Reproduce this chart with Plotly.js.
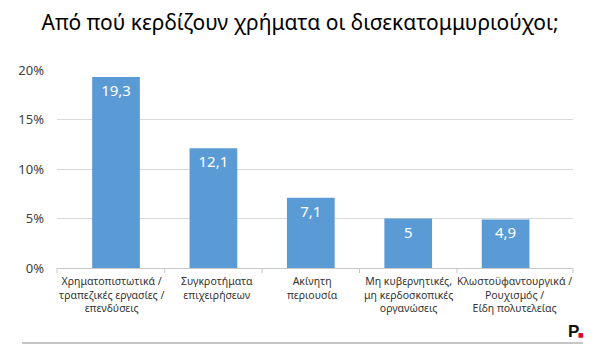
<!DOCTYPE html>
<html>
<head>
<meta charset="utf-8">
<script src="https://cdn.plot.ly/plotly-3.0.1.min.js"></script>
<style>html,body{margin:0;padding:0;background:#fff;}#chart{width:600px;height:356px;}</style>
</head>
<body>
<div id="chart"></div>
<script>
const categories = [
  "Χρηματοπιστωτικά /<br>τραπεζικές εργασίες /<br>επενδύσεις",
  "Συγκροτήματα<br>επιχειρήσεων",
  "Ακίνητη<br>περιουσία",
  "Μη κυβερνητικές,<br>μη κερδοσκοπικές<br>οργανώσεις",
  "Κλωστοϋφαντουργικά /<br>Ρουχισμός /<br>Είδη πολυτελείας"
];
const values = [19.3, 12.1, 7.1, 5, 4.9];
const valueLabels = ["19,3", "12,1", "7,1", "5", "4,9"];
const yTicks = [0, 5, 10, 15, 20];
const yTickLabels = ["0%", "5%", "10%", "15%", "20%"];
const titleText = "Από πού κερδίζουν χρήματα οι δισεκατομμυριούχοι;";

const W = 600, H = 356, L = 57, R = 27, T = 70, B = 88;
const pw = W - L - R, ph = H - T - B;
const px = x => (x - L) / pw;
const py = y => (H - B - y) / ph;
const labelShift = [-5, 4, 2, 0, 9];

const trace = {
  type: 'bar',
  x: categories,
  y: values,
  text: valueLabels,
  marker: {color: '#5b9bd5'},
  texttemplate: '%{text}',
  textposition: 'inside',
  insidetextanchor: 'end',
  textangle: 0,
  textfont: {color: '#ffffff', size: 15, family: 'Noto Sans'},
  hoverinfo: 'none'
};

// category-boundary tick marks below the axis
const tickShapes = [];
[0.5, 1.5, 2.5, 3.5].forEach(b => tickShapes.push({
  type: 'line', xref: 'x', yref: 'paper', x0: b, x1: b, y0: 0, y1: -5 / ph,
  line: {color: '#c8c8c8', width: 1}
}));
[0, 1].forEach(b => tickShapes.push({
  type: 'line', xref: 'paper', yref: 'paper', x0: b, x1: b, y0: 0, y1: -5 / ph,
  line: {color: '#c8c8c8', width: 1}
}));

const catLabels = categories.map((c, i) => ({
  xref: 'x', yref: 'paper', x: c, y: 0, xanchor: 'center', yanchor: 'top',
  yshift: -4, xshift: labelShift[i], text: c, showarrow: false, align: 'center',
  font: {size: 10.5, color: '#333333', family: 'Noto Sans'}
}));

const layout = {
  width: W, height: H,
  margin: {l: L, r: R, t: T, b: B},
  paper_bgcolor: '#ffffff',
  plot_bgcolor: '#ffffff',
  bargap: 0.51,
  showlegend: false,
  font: {family: 'Noto Sans', color: '#404040'},
  title: {
    text: titleText,
    font: {family: 'Noto Sans', size: 21, color: '#000000'},
    x: 0.5, xanchor: 'center', xref: 'container',
    yref: 'container', y: 1 - 23 / H, yanchor: 'middle'
  },
  xaxis: {
    type: 'category',
    range: [-0.606, 4.692],
    ticks: '',
    showticklabels: false,
    showline: true,
    linecolor: '#c8c8c8',
    linewidth: 1,
    showgrid: false,
    fixedrange: true
  },
  yaxis: {
    range: [0, 20],
    tickvals: yTicks,
    ticktext: yTickLabels,
    showgrid: true,
    gridcolor: '#d9d9d9',
    gridwidth: 1,
    zeroline: false,
    showline: false,
    ticks: '',
    ticklabelstandoff: 12,
    tickfont: {size: 13, color: '#404040', family: 'Noto Sans'},
    fixedrange: true
  },
  shapes: tickShapes.concat([
    {type: 'line', xref: 'paper', yref: 'paper', x0: px(22), x1: px(583), y0: py(343), y1: py(343),
     line: {color: '#8c8c8c', width: 1}}
  ]),
  annotations: catLabels.concat([
    {xref: 'paper', yref: 'paper', x: px(566), y: py(331), xanchor: 'left', yanchor: 'middle',
     text: '<b>P</b>', showarrow: false, font: {family: 'Liberation Sans', size: 17, color: '#111111'}},
    {xref: 'paper', yref: 'paper', x: px(576), y: py(334), xanchor: 'left', yanchor: 'middle',
     text: '■', showarrow: false, font: {family: 'DejaVu Sans', size: 6, color: '#e3001b'}}
  ])
};

Plotly.newPlot('chart', [trace], layout, {displayModeBar: false, staticPlot: true});
</script>
</body>
</html>
